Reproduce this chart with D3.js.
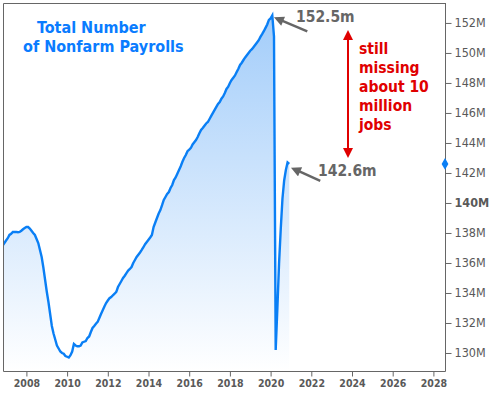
<!DOCTYPE html>
<html lang="en">
<head>
    <meta charset="UTF-8">
    <title>Total Number of Nonfarm Payrolls</title>
    <script src="https://cdnjs.cloudflare.com/ajax/libs/d3/7.8.5/d3.min.js"></script>
    <style>
        body {
            margin: 0;
            padding: 0;
            background-color: #fff;
        }
        svg text {
            font-family: "DejaVu Sans Condensed", "DejaVu Sans", sans-serif;
        }
        .frame {
            fill: none;
            stroke: #666;
            stroke-width: 1px;
        }
        .tick-label {
            fill: #595959;
        }
    </style>
</head>
<body>
    <div id="chart"></div>
    <script>
        // monthly payrolls, millions, starting Nov 2006
        const startYear = 2006, startMonth = 10;
        const payrolls = [
            137.15, 137.33,
            137.50, 137.65, 137.87, 137.95, 138.07, 138.07, 138.07, 138.05, 138.07, 138.15, 138.25, 138.33,
            138.40, 138.40, 138.30, 138.15, 138.00, 137.87, 137.60, 137.33, 136.87, 136.40, 135.70, 134.90,
            134.10, 133.40, 132.60, 131.80, 131.30, 130.90, 130.50, 130.30, 130.10, 130.00, 129.95, 129.80,
            129.75, 129.70, 129.85, 130.10, 130.60, 130.50, 130.45, 130.45, 130.50, 130.70, 130.75, 130.80,
            131.00, 131.10, 131.40, 131.67, 131.80, 131.95, 132.07, 132.33, 132.60, 132.85, 133.10, 133.33,
            133.50, 133.65, 133.73, 133.85, 133.95, 134.07, 134.40, 134.60, 134.80, 135.00, 135.15, 135.33,
            135.50, 135.60, 135.73, 136.00, 136.20, 136.40, 136.55, 136.70, 136.87, 137.05, 137.25, 137.40,
            137.55, 137.70, 137.87, 138.40, 138.70, 139.00, 139.30, 139.53, 139.85, 140.20, 140.40, 140.60,
            140.73, 141.00, 141.20, 141.53, 141.70, 141.95, 142.20, 142.45, 142.75, 143.00, 143.20, 143.45,
            143.55, 143.67, 143.90, 144.05, 144.20, 144.40, 144.65, 144.87, 145.00, 145.15, 145.30, 145.40,
            145.60, 145.80, 146.00, 146.20, 146.40, 146.60, 146.73, 146.95, 147.10, 147.33, 147.60, 147.75,
            148.00, 148.20, 148.35, 148.50, 148.73, 148.95, 149.20, 149.35, 149.53, 149.70, 149.85, 150.00,
            150.15, 150.25, 150.40, 150.55, 150.70, 150.85, 151.07, 151.25, 151.45, 151.67, 151.90, 152.20,
            152.30, 152.50, 151.10, 130.20, 133.00, 136.00, 138.30, 140.30, 141.50, 142.20, 142.70, 142.60
        ];
        const yearTicks = [2008, 2010, 2012, 2014, 2016, 2018, 2020, 2022, 2024, 2026, 2028];
        const valueTicks = [130, 132, 134, 136, 138, 140, 142, 144, 146, 148, 150, 152];
        const titleLines = ["Total Number", "of Nonfarm Payrolls"];
        const noteLines = ["still", "missing", "about 10", "million", "jobs"];
        const peakLabel = "152.5m";
        const lastLabel = "142.6m";
        const lastValue = 142.6;

        const data = payrolls.map((v, i) => ({
            t: startYear + (startMonth + i) / 12,
            v: v
        }));

        const width = 501, height = 393;
        const plot = { left: 3, right: 445, top: 3, bottom: 371 };

        const svg = d3.select("#chart").append("svg")
            .attr("width", width)
            .attr("height", height);

        const x = d3.scaleLinear().domain([2006.85, 2028.57]).range([plot.left, plot.right]);
        const y = d3.scaleLinear().domain([128.8, 153.33]).range([plot.bottom, plot.top]);

        const defs = svg.append("defs");
        const grad = defs.append("linearGradient")
            .attr("id", "fillGrad")
            .attr("gradientUnits", "userSpaceOnUse")
            .attr("x1", 0).attr("x2", 0)
            .attr("y1", y(152.5)).attr("y2", plot.bottom);
        grad.append("stop").attr("offset", "0%").attr("stop-color", "#a3cdfa");
        grad.append("stop").attr("offset", "100%").attr("stop-color", "#ffffff");

        defs.append("clipPath").attr("id", "clip")
            .append("rect")
            .attr("x", plot.left).attr("y", plot.top)
            .attr("width", plot.right - plot.left)
            .attr("height", plot.bottom - plot.top);

        function arrowHead(id, color, w, h) {
            defs.append("marker")
                .attr("id", id)
                .attr("viewBox", "0 0 10 10")
                .attr("refX", 2).attr("refY", 5)
                .attr("markerUnits", "userSpaceOnUse")
                .attr("markerWidth", w).attr("markerHeight", h)
                .attr("orient", "auto-start-reverse")
                .append("path")
                .attr("d", "M0,0 L10,5 L0,10 Z")
                .attr("fill", color);
        }
        arrowHead("grayHead", "#666", 11, 10);
        arrowHead("redHead", "#e00000", 12, 10);

        const g = svg.append("g").attr("clip-path", "url(#clip)");

        const area = d3.area()
            .x(d => x(d.t))
            .y0(plot.bottom)
            .y1(d => y(d.v))
            .curve(d3.curveStepAfter);

        const line = d3.line()
            .x(d => x(d.t))
            .y(d => y(d.v))
            .curve(d3.curveLinear);

        g.append("path")
            .datum(data)
            .attr("d", area.curve(d3.curveLinear))
            .attr("fill", "url(#fillGrad)");

        g.append("path")
            .datum(data)
            .attr("d", line)
            .attr("fill", "none")
            .attr("stroke", "#0a7ff5")
            .attr("stroke-width", 2.4)
            .attr("stroke-linejoin", "miter");

        // frame
        svg.append("path")
            .attr("class", "frame")
            .attr("d", `M${plot.right + 0.5},${plot.top + 0.5} H${plot.left + 0.5} V${plot.bottom + 0.5} H${plot.right + 0.5}`);

        // right axis
        const yAxis = svg.append("g")
            .attr("transform", `translate(${plot.right + 0.5},0)`)
            .call(d3.axisRight(y).tickValues(valueTicks).tickSize(6).tickSizeOuter(0).tickPadding(3)
                .tickFormat(d => d + "M"));
        yAxis.select(".domain").attr("stroke", "#666");
        yAxis.selectAll(".tick line").attr("stroke", "#666");
        yAxis.selectAll(".tick text")
            .attr("class", "tick-label")
            .attr("fill", "#595959")
            .style("font-size", "12.5px")
            .style("font-weight", d => d === 140 ? "bold" : "normal");
        yAxis.select(".domain").attr("d", `M0,${plot.top} V${plot.bottom + 0.5}`);

        // bottom axis
        const xAxis = svg.append("g")
            .attr("transform", `translate(0,${plot.bottom + 0.5})`)
            .call(d3.axisBottom(x).tickValues(yearTicks).tickSize(5).tickSizeOuter(0).tickPadding(3)
                .tickFormat(d3.format("d")));
        xAxis.select(".domain").remove();
        xAxis.selectAll(".tick line").attr("stroke", "#666");
        xAxis.selectAll(".tick text")
            .attr("fill", "#595959")
            .style("font-size", "10.5px")
            .style("font-weight", "bold");

        // last value marker on the axis
        svg.append("path")
            .attr("d", d3.symbol(d3.symbolDiamond, 40)())
            .attr("transform", `translate(${plot.right},${y(lastValue)})`)
            .attr("fill", "#0a7ff5");

        // title
        svg.append("text")
            .attr("fill", "#0a7cff")
            .style("font-size", "16px")
            .style("font-weight", "bold")
            .selectAll("tspan")
            .data(titleLines)
            .join("tspan")
            .attr("x", (d, i) => i === 0 ? 37 : 23)
            .attr("y", (d, i) => 33 + i * 19)
            .text(d => d);

        // gray callouts
        const peak = data.reduce((a, b) => (b.v > a.v ? b : a));
        const last = data[data.length - 1];

        svg.append("line")
            .attr("x1", x(peak.t) + 35).attr("y1", y(peak.v) + 16)
            .attr("x2", x(peak.t) + 9).attr("y2", y(peak.v) + 5)
            .attr("stroke", "#666").attr("stroke-width", 2.5)
            .attr("marker-end", "url(#grayHead)");
        svg.append("text")
            .attr("x", 296).attr("y", 22)
            .attr("fill", "#666")
            .style("font-size", "15.5px")
            .style("font-weight", "bold")
            .text(peakLabel);

        svg.append("line")
            .attr("x1", x(last.t) + 31).attr("y1", y(last.v) + 17)
            .attr("x2", x(last.t) + 9).attr("y2", y(last.v) + 7)
            .attr("stroke", "#666").attr("stroke-width", 2.5)
            .attr("marker-end", "url(#grayHead)");
        svg.append("text")
            .attr("x", 318).attr("y", 176)
            .attr("fill", "#666")
            .style("font-size", "15.5px")
            .style("font-weight", "bold")
            .text(lastLabel);

        // red double arrow + note
        svg.append("line")
            .attr("x1", 348).attr("y1", 38)
            .attr("x2", 348).attr("y2", 150)
            .attr("stroke", "#e00000").attr("stroke-width", 2)
            .attr("marker-start", "url(#redHead)")
            .attr("marker-end", "url(#redHead)");

        svg.append("text")
            .attr("fill", "#e00000")
            .style("font-size", "15.5px")
            .style("font-weight", "bold")
            .selectAll("tspan")
            .data(noteLines)
            .join("tspan")
            .attr("x", 359)
            .attr("y", (d, i) => 54 + i * 19)
            .text(d => d);
    </script>
</body>
</html>
